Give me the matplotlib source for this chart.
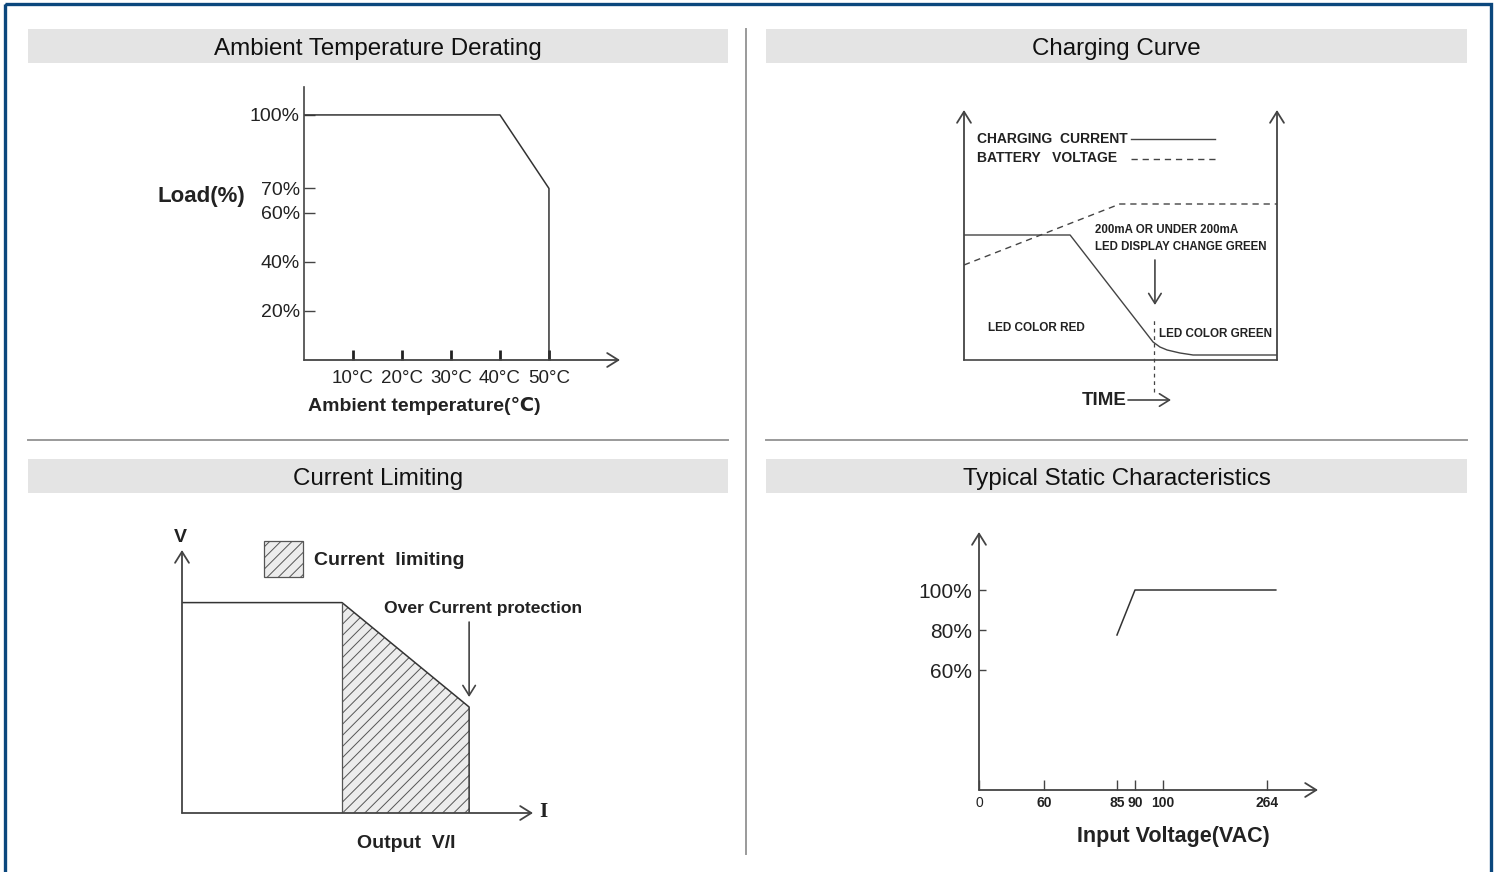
import matplotlib
matplotlib.use("Agg")
import numpy as np
import matplotlib.pyplot as plt
from matplotlib.patches import Rectangle, Patch

plt.rcParams["font.family"] = ["Liberation Sans", "DejaVu Sans"]
plt.rcParams["hatch.linewidth"] = 0.7

# ---- data ----
# ambient temperature derating
temp_c = [0, 40, 50, 50]
load_pct = [100, 100, 70, 0]
temp_ticks = [10, 20, 30, 40, 50]
load_ticks = [20, 40, 60, 70, 100]

# charging curve (schematic, time 0-100, level 0-100)
t_current = [0, 33.9, 60.4, 62.6, 64.9, 69.0, 73.2, 100]
charge_current = [50, 50, 7.2, 5.2, 4.0, 2.8, 2.0, 2.0]
t_voltage = [0, 49.8, 100]
battery_voltage = [38, 62.4, 62.4]
t_green = 60.7

# current limiting (output I vs V, schematic)
out_i = [0, 45.6, 81.8, 81.8]
out_v = [80, 80, 40.3, 0]

# static characteristics
vin_ticks = [0, 60, 85, 90, 100, 264]
out_ticks = [60, 80, 100]
vin = [85, 90, 278]
out_load = [77.5, 100, 100]
# broken (schematic) voltage axis: volts -> axis position
axis_volts = [0, 60, 85, 90, 100, 264, 400]
axis_pos = [0, 65, 138, 156, 184, 288, 374]

# ---- layout ----
W, H = 1497, 872
fig = plt.figure(figsize=(W / 100, H / 100), dpi=100)
bg = fig.add_axes([0, 0, 1, 1])
bg.set_xlim(0, W)
bg.set_ylim(H, 0)
bg.axis("off")

BLUE = "#0b477d"
BAR = "#e4e4e4"
SEP = "#9a9a9a"
INK = "#222222"
LINE = "#444444"

bg.add_patch(Rectangle((5, 4), 1486, 900, fill=False, ec=BLUE, lw=2.4))
for x0, x1, y0, title in [(28, 728, 29, "Ambient Temperature Derating"),
                          (766, 1467, 29, "Charging Curve"),
                          (28, 728, 459, "Current Limiting"),
                          (766, 1467, 459, "Typical Static Characteristics")]:
    bg.add_patch(Rectangle((x0, y0), x1 - x0, 34, fc=BAR, ec="none"))
    bg.text((x0 + x1) / 2, y0 + 20, title, ha="center", va="center",
            fontsize=17.4, color="#111")
bg.plot([28, 728], [440, 440], color=SEP, lw=1.4)
bg.plot([766, 1467], [440, 440], color=SEP, lw=1.4)
bg.plot([746, 746], [29, 854], color=SEP, lw=1.4)


def panel_ax(x0, y0, x1, y1):
    a = fig.add_axes([x0 / W, 1 - y1 / H, (x1 - x0) / W, (y1 - y0) / H])
    a.patch.set_alpha(0)
    for s in a.spines.values():
        s.set_visible(False)
    return a


def arrow(a, xy, xytext, lw=1.3, color=LINE, ms=20):
    a.annotate("", xy=xy, xytext=xytext, annotation_clip=False,
               arrowprops=dict(arrowstyle="->,head_length=0.4,head_width=0.25",
                               lw=lw, color=color, shrinkA=0, shrinkB=0,
                               mutation_scale=ms))


# ---- (1) ambient temperature derating ----
ax1 = panel_ax(304, 87, 620, 360)
ax1.set_xlim(0, 64.5)
ax1.set_ylim(0, 111.4)
ax1.spines["left"].set_visible(True)
ax1.spines["left"].set_color(LINE)
ax1.spines["left"].set_linewidth(1.2)
arrow(ax1, (64.5, 0), (0, 0))
ax1.plot(temp_c, load_pct, color="#333", lw=1.1)
ax1.set_xticks(temp_ticks, [f"{t}°C" for t in temp_ticks])
ax1.set_yticks(load_ticks, [f"{v}%" for v in load_ticks])
ax1.tick_params(axis="y", direction="in", length=8, width=1, pad=3,
                labelsize=14, colors=LINE, labelcolor=INK)
ax1.tick_params(axis="x", direction="in", length=7.5, width=2, pad=7.5,
                labelsize=13.5, colors=INK, labelcolor=INK)
bg.text(201, 196, "Load(%)", ha="center", va="center", fontsize=16,
        fontweight="bold", color=INK)
bg.text(424, 406, "Ambient temperature(℃)", ha="center", va="center",
        fontsize=14, fontweight="bold", color=INK)

# ---- (2) charging curve ----
ax2 = panel_ax(964, 110, 1277, 360)
ax2.set_xlim(0, 100)
ax2.set_ylim(0, 100)
ax2.set_xticks([])
ax2.set_yticks([])
ax2.spines["bottom"].set_visible(True)
ax2.spines["bottom"].set_color(LINE)
ax2.spines["bottom"].set_linewidth(1.2)
arrow(ax2, (0, 100), (0, 0))
arrow(ax2, (100, 100), (100, 0))
ax2.plot(t_current, charge_current, color="#444", lw=1.0)
ax2.plot(t_voltage, battery_voltage, color="#444", lw=1.0, ls=(0, (4.5, 3.5)))
ax2.axvline(t_green, ymin=-0.13, ymax=0.16, clip_on=False, color="#444",
            lw=0.9, ls=(0, (3, 3)))
arrow(ax2, (61.0, 22), (61.0, 40), lw=1.2, ms=18)

# legend keys (text on the left, sample line on the right)
bg.text(977, 139, "CHARGING  CURRENT", ha="left", va="center",
        fontsize=10, fontweight="bold", color=INK)
bg.text(977, 158, "BATTERY   VOLTAGE", ha="left", va="center",
        fontsize=10, fontweight="bold", color=INK)
bg.plot([1131, 1215], [139, 139], color="#444", lw=1.0)
bg.plot([1131, 1217], [159, 159], color="#444", lw=1.0, ls=(0, (4.5, 3.5)))

bg.text(1095, 230, "200mA OR UNDER 200mA", ha="left", va="center",
        fontsize=8.3, fontweight="bold", color=INK)
bg.text(1095, 247, "LED DISPLAY CHANGE GREEN", ha="left", va="center",
        fontsize=8.3, fontweight="bold", color=INK)
bg.text(988, 328, "LED COLOR RED", ha="left", va="center",
        fontsize=8.5, fontweight="bold", color=INK)
bg.text(1159, 334, "LED COLOR GREEN", ha="left", va="center",
        fontsize=8.4, fontweight="bold", color=INK)
bg.text(1104, 400, "TIME", ha="center", va="center", fontsize=13.5,
        fontweight="bold", color=INK)
arrow(bg, (1171, 400), (1128, 400), lw=1.2, ms=18)

# ---- (3) current limiting ----
ax3 = panel_ax(182, 550, 533, 813)
ax3.set_xlim(0, 100)
ax3.set_ylim(0, 100)
ax3.set_xticks([])
ax3.set_yticks([])
arrow(ax3, (0, 100), (0, 0))
arrow(ax3, (100, 0), (0, 0))
ax3.fill_between(out_i[1:3], out_v[1:3], 0, facecolor="#ececec",
                 edgecolor="#555", hatch="///", lw=0)
ax3.plot(out_i, out_v, color="#333", lw=1.1)
ax3.plot([out_i[1], out_i[1]], [out_v[1], 0], color="#555", lw=0.9)
arrow(ax3, (out_i[2], out_v[2] + 3.8), (out_i[2], 72.6), lw=1.2, ms=18)
lim_patch = Patch(facecolor="#ececec", edgecolor="#555", hatch="///", lw=0.9)
ax3.legend([lim_patch], ["Current  limiting"], loc="upper left",
           bbox_to_anchor=(0.234, 1.035), frameon=False, borderpad=0,
           borderaxespad=0, handlelength=2.0, handleheight=2.5,
           handletextpad=0.55, prop=dict(size=14, weight="bold"),
           labelcolor=INK)
bg.text(180, 537, "V", ha="center", va="center", fontsize=14,
        fontweight="bold", color=INK)
bg.text(543, 812, "I", ha="center", va="center", fontsize=15,
        fontweight="bold", color=INK, family="Liberation Serif")
bg.text(483, 608, "Over Current protection", ha="center", va="center",
        fontsize=12.6, fontweight="bold", color=INK)
bg.text(406, 843, "Output  V/I", ha="center", va="center", fontsize=14,
        fontweight="bold", color=INK)

# ---- (4) typical static characteristics ----
ax4 = panel_ax(979, 532, 1318, 790)
ax4.set_xscale("function", functions=(
    lambda v: np.interp(v, axis_volts, axis_pos),
    lambda p: np.interp(p, axis_pos, axis_volts)))
ax4.set_xlim(0, 344.7)
ax4.set_ylim(0, 129)
arrow(ax4, (0, 129), (0, 0))
arrow(ax4, (344.7, 0), (0, 0))
ax4.plot(vin, out_load, color="#333", lw=1.1)
ax4.set_xticks(vin_ticks, [str(v) for v in vin_ticks])
ax4.set_xticks([], minor=True)
ax4.set_yticks(out_ticks, [f"{v}%" for v in out_ticks])
ax4.tick_params(axis="y", direction="in", length=5, width=1, pad=5,
                labelsize=15, colors=LINE, labelcolor=INK)
ax4.tick_params(axis="x", direction="in", length=7.5, width=1, pad=4,
                labelsize=10, colors=LINE, labelcolor=INK)
for lab in ax4.get_xticklabels()[1:]:
    lab.set_fontweight("bold")
bg.text(1173, 836, "Input Voltage(VAC)", ha="center", va="center",
        fontsize=15.5, fontweight="bold", color=INK)

fig.savefig("out.png", dpi=100)
